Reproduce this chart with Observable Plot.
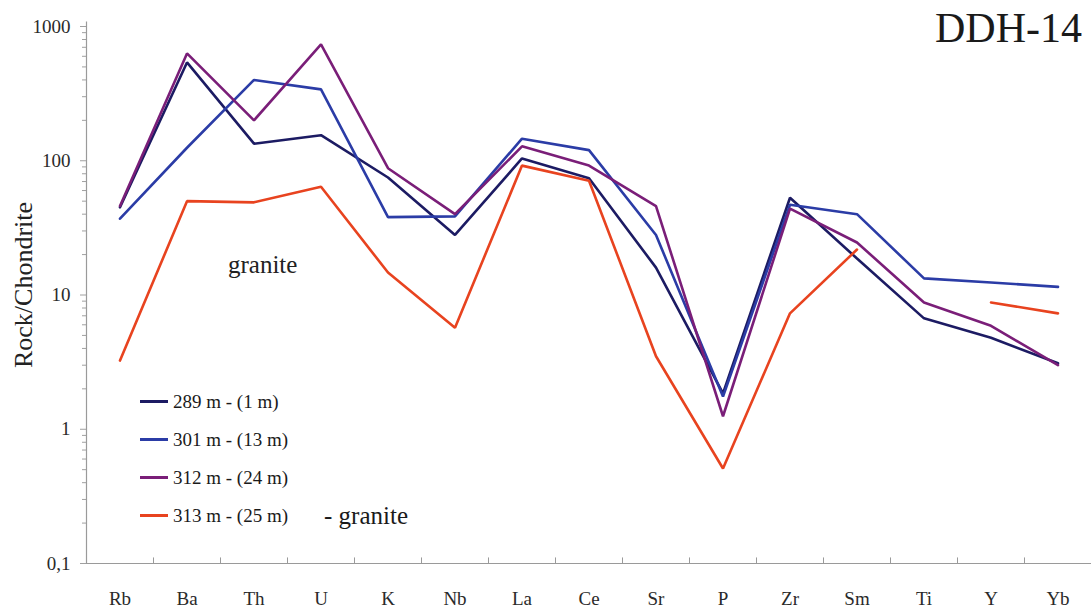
<!DOCTYPE html>
<html>
<head>
<meta charset="utf-8">
<script src="https://cdn.jsdelivr.net/npm/d3@7"></script>
<script src="https://cdn.jsdelivr.net/npm/@observablehq/plot@0.6"></script>
<style>
  html, body { margin: 0; padding: 0; background: #fff; }
  #wrap { position: relative; width: 1091px; height: 609px; color: #1a1a1a; }
  #wrap svg { position: absolute; left: 0; top: 0; }
  .ov { position: absolute; line-height: 1; white-space: nowrap; font-family: 'Liberation Serif', serif; }
  .legrow { display: flex; align-items: center; height: 38px; font-size: 19px; font-family: 'Liberation Serif', serif; }
  .legline { width: 28px; height: 3px; margin-right: 5px; }
</style>
</head>
<body>
<div id="wrap"></div>
<script>
const elements = ["Rb","Ba","Th","U","K","Nb","La","Ce","Sr","P","Zr","Sm","Ti","Y","Yb"];
const seriesNames = ["289 m - (1 m)", "301 m - (13 m)", "312 m - (24 m)", "313 m - (25 m)"];
const seriesColors = ["#1c1b63", "#2b3ca6", "#7a1e78", "#e8431f"];
const s289 = [45, 540, 134, 155, 75, 28, 104, 74, 16, 1.85, 53, 18.7, 6.7, 4.8, 3.1];
const s301 = [37, 125, 400, 340, 38, 38.5, 146, 120, 28, 1.75, 47, 40, 13.3, 12.4, 11.5];
const s312 = [46, 630, 200, 735, 88, 40, 128, 92, 46, 1.25, 44, 24.6, 8.8, 5.9, 3.0];
const s313 = [3.25, 50, 49, 64, 14.7, 5.7, 92, 71, 3.5, 0.51, 7.3, 21.8, null, 8.8, 7.3];
const yMajorTicks = [0.1, 1, 10, 100, 1000];
const yMajorLabels = ["0,1", "1", "10", "100", "1000"];
const titleText = "DDH-14";
const yLabel = "Rock/Chondrite";
const noteText = "granite";
const legendNote = "- granite";

const serif = "'Liberation Serif', 'Times New Roman', serif";

const allSeries = [s289, s301, s312, s313];
const data = [];
allSeries.forEach((vals, k) => vals.forEach((v, i) => data.push({i, v, series: seriesNames[k]})));

const minorTicks = [];
for (let e = -1; e < 3; e++) for (let m = 2; m <= 9; m++) minorTicks.push(m * Math.pow(10, e));
const boundaries = d3.range(elements.length - 1).map(i => i + 0.5);

const chart = Plot.plot({
  width: 1091,
  height: 609,
  marginLeft: 86,
  marginRight: 0,
  marginTop: 26,
  marginBottom: 46,
  style: {fontFamily: serif, background: "transparent"},
  x: {type: "linear", domain: [-0.5, elements.length - 0.5]},
  y: {type: "log", domain: [0.1, 1000]},
  color: {domain: seriesNames, range: seriesColors},
  marks: [
    Plot.axisY({ticks: minorTicks, tickFormat: () => "", tickSize: 4, stroke: "#a0a0a0", label: null}),
    Plot.axisY({ticks: yMajorTicks, tickFormat: () => "", tickSize: 6, stroke: "#a0a0a0", label: null}),
    Plot.axisY({ticks: yMajorTicks, tickFormat: d => yMajorLabels[yMajorTicks.indexOf(d)], tickSize: 0, tickPadding: 16, fontSize: 19, fill: "#2a2a2a", label: null}),
    Plot.axisX({ticks: d3.range(elements.length), tickFormat: i => elements[i], tickSize: 0, tickPadding: 28, fontSize: 19, fill: "#2a2a2a", label: null}),
    Plot.ruleX([-0.5], {stroke: "#9a9a9a", strokeWidth: 1.2, y1: 0.1, y2: 1080}),
    Plot.ruleY([0.1], {stroke: "#9a9a9a", strokeWidth: 1.2}),
    Plot.ruleX(boundaries, {y1: 0.1, y2: 0.11, stroke: "#9a9a9a"}),
    Plot.line(data, {x: "i", y: "v", z: "series", stroke: "series", strokeWidth: 2.6, strokeLinejoin: "miter"})
  ]
});

const wrap = document.getElementById("wrap");
wrap.appendChild(chart);

function ov(text, css) {
  const d = document.createElement("div");
  d.className = "ov";
  d.textContent = text;
  d.style.fontFamily = serif;
  Object.assign(d.style, css);
  wrap.appendChild(d);
  return d;
}
ov(titleText, {right: "9px", top: "7px", fontSize: "42px", color: "#1a1a1a"});
ov(noteText, {left: "228px", top: "252px", fontSize: "25px", color: "#222"});
ov(yLabel, {left: "24px", top: "285px", fontSize: "26px", color: "#222", transform: "translate(-50%,-50%) rotate(-90deg)"});

const leg = document.createElement("div");
leg.className = "ov";
leg.style.fontFamily = serif;
Object.assign(leg.style, {left: "140px", top: "382px"});
seriesNames.forEach((name, k) => {
  const row = document.createElement("div");
  row.className = "legrow";
  row.style.fontFamily = serif;
  const ln = document.createElement("span");
  ln.className = "legline";
  ln.style.background = seriesColors[k];
  const tx = document.createElement("span");
  tx.textContent = name;
  tx.style.fontFamily = serif;
  row.appendChild(ln);
  row.appendChild(tx);
  if (k === seriesNames.length - 1) {
    const g = document.createElement("span");
    g.textContent = legendNote;
    Object.assign(g.style, {fontSize: "25px", marginLeft: "36px", fontFamily: serif});
    row.appendChild(g);
  }
  leg.appendChild(row);
});
wrap.appendChild(leg);
</script>
</body>
</html>
